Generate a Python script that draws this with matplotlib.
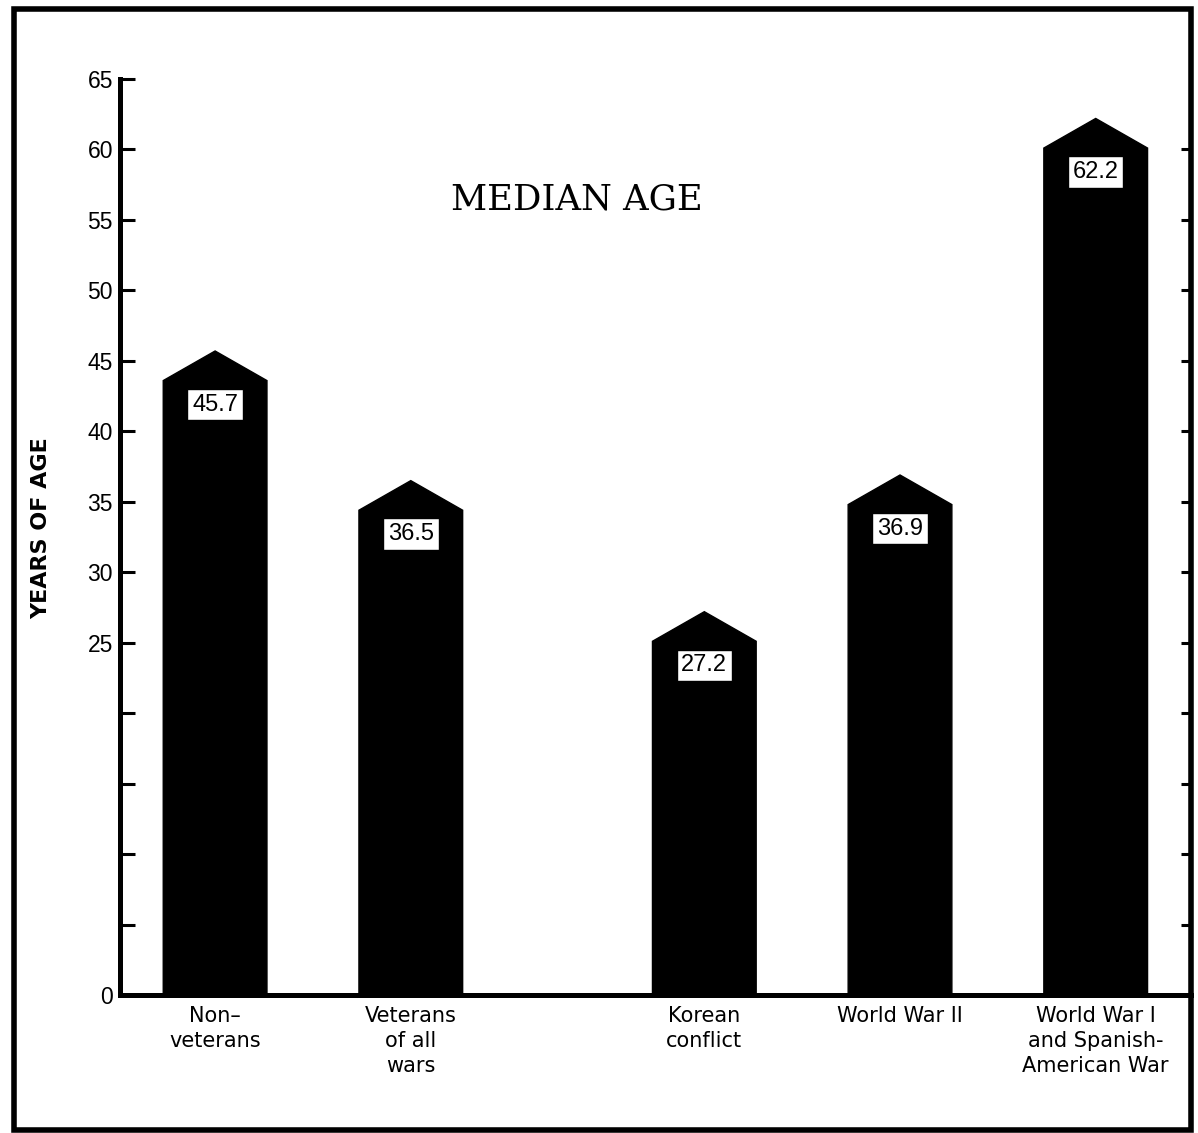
import matplotlib
matplotlib.use("Agg")
import matplotlib.pyplot as plt
from matplotlib.patches import Polygon, Rectangle

# ---- data ----
categories = ["Non\u2013\nveterans", "Veterans\nof all\nwars", "Korean\nconflict",
              "World War II", "World War I\nand Spanish-\nAmerican War"]
median_age = [45.7, 36.5, 27.2, 36.9, 62.2]
value_labels = ["45.7", "36.5", "27.2", "36.9", "62.2"]
y_ticks = [0, 5, 10, 15, 20, 25, 30, 35, 40, 45, 50, 55, 60, 65]
y_tick_labels = ["0", "", "", "", "", "25", "30", "35", "40", "45", "50", "55", "60", "65"]

# ---- layout / style ----
x_pos = [0, 1, 2.5, 3.5, 4.5]
BAR_W = 0.53
ROOF = 2.1
LABEL_DROP = 3.8
W, H = 1198, 1133

fig = plt.figure(figsize=(W / 100, H / 100), dpi=100)
fig.patch.set_facecolor("white")

ax_l, ax_r, ax_b, ax_t = 120, 1191, 995, 79
ax = fig.add_axes([ax_l / W, 1 - ax_b / H, (ax_r - ax_l) / W, (ax_b - ax_t) / H])
ax.set_xlim(-0.486, 4.987)
ax.set_ylim(0, 65)

for x, v, lab in zip(x_pos, median_age, value_labels):
    hw = BAR_W / 2
    verts = [(x - hw, 0), (x - hw, v - ROOF), (x, v), (x + hw, v - ROOF), (x + hw, 0)]
    ax.add_patch(Polygon(verts, closed=True, facecolor="black", edgecolor="black",
                         linewidth=1, zorder=2))
    ax.text(x, v - LABEL_DROP, lab, ha="center", va="center", fontsize=17,
            family="Liberation Sans", color="black", zorder=4,
            bbox=dict(boxstyle="square,pad=0.2", facecolor="white",
                      edgecolor="black", linewidth=1))

for s in ["top", "right"]:
    ax.spines[s].set_visible(False)
ax.spines["left"].set_linewidth(3.6)
ax.spines["bottom"].set_linewidth(3.6)
ax.spines["left"].set_zorder(5)
ax.spines["bottom"].set_zorder(5)

ax.set_yticks(y_ticks)
ax.set_yticklabels(y_tick_labels, family="Liberation Sans", fontsize=16.5)
ax.tick_params(axis="y", direction="in", length=11, width=2.2, pad=5)

ax.set_xticks(x_pos)
ax.set_xticklabels(categories, fontsize=15, family="DejaVu Sans", linespacing=1.3)
ax.tick_params(axis="x", length=0, pad=8)

ax.set_ylabel("YEARS OF AGE", fontsize=16, fontweight="bold", family="DejaVu Sans")
ax.yaxis.set_label_coords(-0.064, 0.51)

# right-side ticks
ax2 = ax.twinx()
ax2.set_ylim(0, 65)
ax2.set_yticks(y_ticks[1:-1])
ax2.set_yticklabels([])
ax2.tick_params(axis="y", direction="in", length=7.5, width=2.2)
for s in ax2.spines.values():
    s.set_visible(False)

fig.text(577 / W, 1 - 200 / H, "MEDIAN AGE", family="DejaVu Serif", fontsize=25.5,
         ha="center", va="center")

# outer frame
fig.add_artist(Rectangle((13.5 / W, 1 - 1129.5 / H), (1191 - 13.5) / W, (1129.5 - 9) / H,
                         transform=fig.transFigure, fill=False, edgecolor="black",
                         linewidth=4.0, zorder=10))

fig.savefig("out.png", dpi=100, facecolor="white")
